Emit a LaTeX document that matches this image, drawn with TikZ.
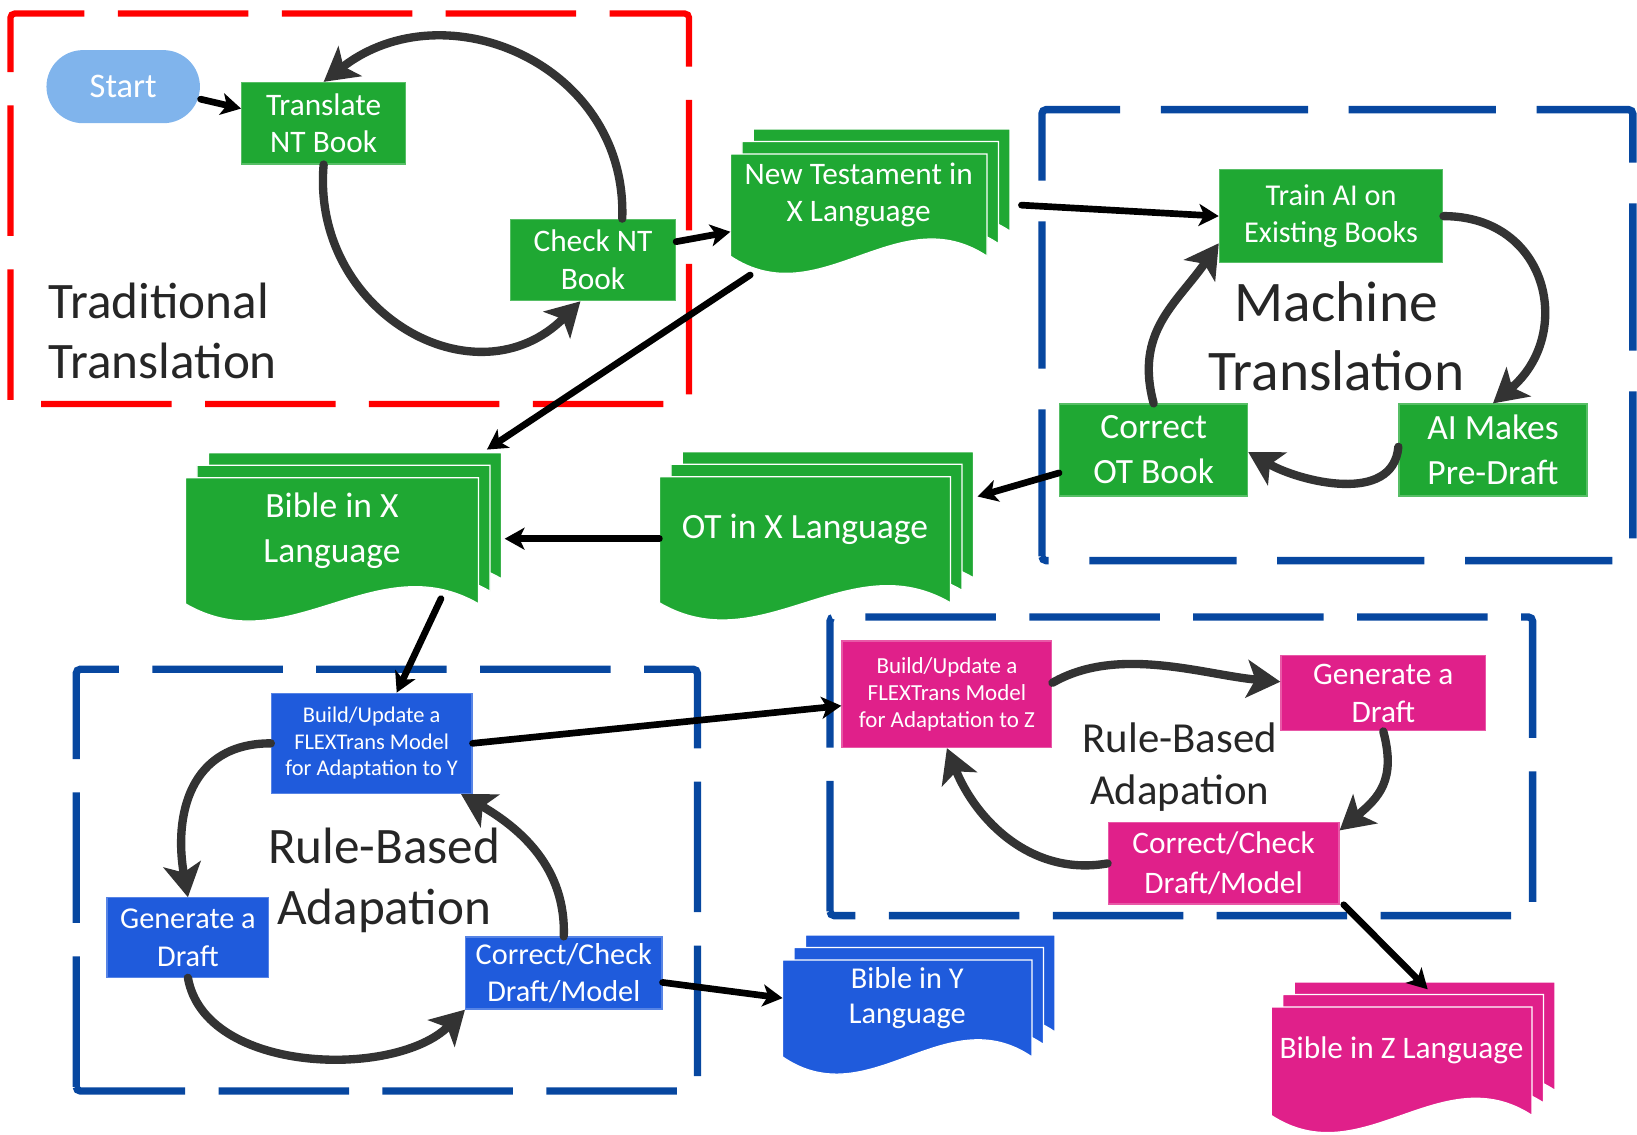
\documentclass[tikz,border=0pt]{standalone}
\usepackage{fontspec}
\setmainfont{Carlito}
\usetikzlibrary{arrows.meta,backgrounds}

\definecolor{bookgreen}{HTML}{1FA833}
\definecolor{ablue}{HTML}{1F5BDC}
\definecolor{apink}{HTML}{E0208A}
\definecolor{startblue}{HTML}{80B4EC}
\definecolor{framered}{HTML}{FF0000}
\definecolor{frameblue}{HTML}{0747A0}
\definecolor{loopgray}{HTML}{333333}
\definecolor{titlegray}{HTML}{262626}

% stacked pages behind a document node: #1 node, #2 colour, #3 width
\newcommand\docpages[3]{%
  \foreach \k in {2,1,0}{%
    \filldraw[fill=#2, draw=white, line width=0.6pt]
      ([shift={(11*\k,12*\k)}]#1.north west) -- ([shift={(11*\k,12*\k)}]#1.north east)
      -- ([shift={(11*\k,12*\k-20)}]#1.south east)
      .. controls +(-0.35*#3,57) and +(0.35*#3,-57) .. ([shift={(11*\k,12*\k-20)}]#1.south west)
      -- cycle;
  }%
}

\begin{document}
\begin{tikzpicture}[x=0.5pt, y=0.5pt,
  box/.style = {fill=#1, draw=#1!75!white, line width=0.6pt, text=white, align=center, inner sep=0pt, font=\fontsize{15}{18}\selectfont},
  doc/.style = {text=white, align=center, inner sep=0pt, font=\fontsize{15}{18}\selectfont},
  heading/.style = {text=titlegray, align=center, inner sep=0pt},
  region/.style = {draw=#1, line width=3pt, rounded corners=2pt, dash pattern=on 62.5pt off 16pt},
  flow/.style = {line width=3.2pt, line cap=round, -{Stealth[length=9.5pt, width=10.5pt, inset=2.5pt]}},
  turn/.style = {draw=loopgray, line width=4pt, line cap=round, -{Stealth[length=16pt, width=18pt, inset=4pt]}}]
\useasboundingbox (0,0) rectangle (1568,-1087);

% dashed regions
\draw[region=framered] (10,-387) -- (10,-13) -- (660,-13) -- (660,-387) -- cycle;
\draw[region=frameblue, line width=3.5pt, dash pattern=on 70.5pt off 19.5pt] (998,-537) -- (998,-105) -- (1564,-105) -- (1564,-537) -- cycle;
\draw[region=frameblue, line width=3.5pt] (73,-1045) -- (73,-641) -- (668,-641) -- (668,-1045) -- cycle;
\draw[region=frameblue, line width=3.5pt] (795,-877) -- (795,-591) -- (1468,-591) -- (1468,-877) -- cycle;

% traditional translation
\node[box=startblue, draw=none, rounded corners=17.5pt, minimum width=73.5pt, minimum height=35pt, font=\fontsize{16.5}{20}\selectfont] (start) at (118,-83) {Start};
\node[box=bookgreen, minimum width=78.5pt, minimum height=39pt] (translate) at (310,-118) {Translate\\NT Book};
\node[box=bookgreen, minimum width=79pt, minimum height=39pt] (checknt) at (568,-249) {Check NT\\Book};
\node[heading, align=left, font=\fontsize{24.5}{29}\selectfont] (tradlbl) at (156,-317) {Traditional\\Translation};
\node[doc, minimum width=122.5pt, minimum height=38.5pt] (ntdoc) at (822.5,-186.5) {New Testament in\\X Language};

% machine translation
\node[box=bookgreen, minimum width=107pt, minimum height=44.5pt, font=\fontsize{14.5}{18}\selectfont] (train) at (1275,-207) {Train AI on\\Existing Books};
\node[heading, font=\fontsize{27.5}{33}\selectfont] (mtlbl) at (1280,-322) {Machine\\Translation};
\node[box=bookgreen, minimum width=90pt, minimum height=44pt, font=\fontsize{17}{21.5}\selectfont] (aimakes) at (1430,-431) {AI Makes\\Pre-Draft};
\node[box=bookgreen, minimum width=90pt, minimum height=44pt, font=\fontsize{17}{21.5}\selectfont] (correctot) at (1105,-431) {Correct\\OT Book};
\node[doc, minimum width=139pt, minimum height=50pt, font=\fontsize{17}{21.5}\selectfont] (otdoc) at (771,-507) {OT in X Language};
\node[doc, minimum width=140pt, minimum height=50pt, font=\fontsize{17}{21.5}\selectfont] (biblex) at (318,-508) {Bible in X\\Language};

% adaptation to Y
\node[box=ablue, minimum width=96pt, minimum height=48pt, font=\fontsize{10.75}{12.75}\selectfont] (buildy) at (356,-712) {Build/Update a\\FLEXTrans Model\\for Adaptation to Y};
\node[heading, font=\fontsize{24.5}{29}\selectfont] (ylbl) at (368,-843) {Rule-Based\\Adapation};
\node[box=ablue, minimum width=77.5pt, minimum height=38pt, font=\fontsize{14.5}{18}\selectfont] (geny) at (180,-898) {Generate a\\Draft};
\node[box=ablue, minimum width=94pt, minimum height=34.5pt, font=\fontsize{14.5}{18}\selectfont] (checky) at (540,-932) {Correct/Check\\Draft/Model};
\node[doc, minimum width=119pt, minimum height=36pt, font=\fontsize{14.5}{17}\selectfont] (bibley) at (869,-956) {Bible in Y\\Language};

% adaptation to Z
\node[box=apink, minimum width=100.5pt, minimum height=51pt, font=\fontsize{11}{13}\selectfont] (buildz) at (907,-665) {Build/Update a\\FLEXTrans Model\\for Adaptation to Z};
\node[box=apink, minimum width=98pt, minimum height=36pt] (genz) at (1325,-664) {Generate a\\Draft};
\node[heading, font=\fontsize{20.5}{25}\selectfont] (zlbl) at (1130,-735) {Rule-Based\\Adapation};
\node[box=apink, minimum width=110.5pt, minimum height=39pt, font=\fontsize{15}{19}\selectfont] (checkz) at (1172,-827) {Correct/Check\\Draft/Model};
\node[doc, minimum width=124.5pt, minimum height=41.5pt] (biblez) at (1342.5,-1006.5) {Bible in Z Language};

\begin{scope}[on background layer]
\docpages{ntdoc}{bookgreen}{245}
\docpages{otdoc}{bookgreen}{278}
\docpages{biblex}{bookgreen}{280}
\docpages{bibley}{ablue}{238}
\docpages{biblez}{apink}{249}
\end{scope}

% cycles
\draw[turn] (translate.south) to[out=265, in=225, looseness=1.3] ([xshift=-6pt]checknt.south);
\draw[turn] ([xshift=14pt]checknt.north) to[out=88, in=38, looseness=1.2] (translate.north);
\draw[turn] (train.east) to[out=0, in=40, looseness=1.4] (aimakes.north);
\draw[turn] ([yshift=1.5pt]aimakes.west) to[out=265, in=330, looseness=1] ([yshift=-1pt]correctot.east);
\draw[turn] (correctot.north) to[out=105, in=235, looseness=1.1] ([yshift=-13pt]train.west);
\draw[turn] (buildy.west) to[out=180, in=100, looseness=1.2] (geny.north);
\draw[turn] (geny.south) to[out=280, in=225, looseness=0.9] (checky.south west);
\draw[turn] (checky.north) to[out=88, in=330, looseness=1] ([xshift=-5.5pt]buildy.south east);
\draw[turn] ([yshift=5.5pt]buildz.east) to[out=30, in=175, looseness=0.85] ([yshift=5.5pt]genz.west);
\draw[turn] (genz.south) to[out=285, in=40, looseness=1.2] ([yshift=-4pt]checkz.north east);
\draw[turn] (checkz.west) to[out=190, in=292, looseness=1] (buildz.south);

% flow between stages
\draw[flow] ([yshift=-6pt]start.east) -- ([yshift=7pt]translate.west);
\draw[flow] ([yshift=8.75pt]checknt.east) -- ([yshift=-17.75pt]ntdoc.west);
\draw[flow] ([xshift=9.5pt,yshift=-19pt]ntdoc.south west) -- ([xshift=4pt,yshift=13.5pt]biblex.north east);
\draw[flow] ([xshift=16.5pt,yshift=-5pt]ntdoc.east) -- (train.west);
\draw[flow] ([yshift=-11pt]correctot.west) -- ([xshift=13pt,yshift=-9.5pt]otdoc.north east);
\draw[flow] ([yshift=-4.5pt]otdoc.west) -- ([xshift=12.5pt,yshift=-4pt]biblex.east);
\draw[flow] ([xshift=-18pt,yshift=-7.5pt]biblex.south east) -- ([xshift=12pt]buildy.north);
\draw[flow] (buildy.east) -- ([yshift=-5.5pt]buildz.west);
\draw[flow] ([yshift=-4.5pt]checky.east) -- (bibley.west);
\draw[flow] ([xshift=2pt]checkz.south east) -- ([xshift=12.5pt,yshift=8.5pt]biblez.north);

\end{tikzpicture}
\end{document}
